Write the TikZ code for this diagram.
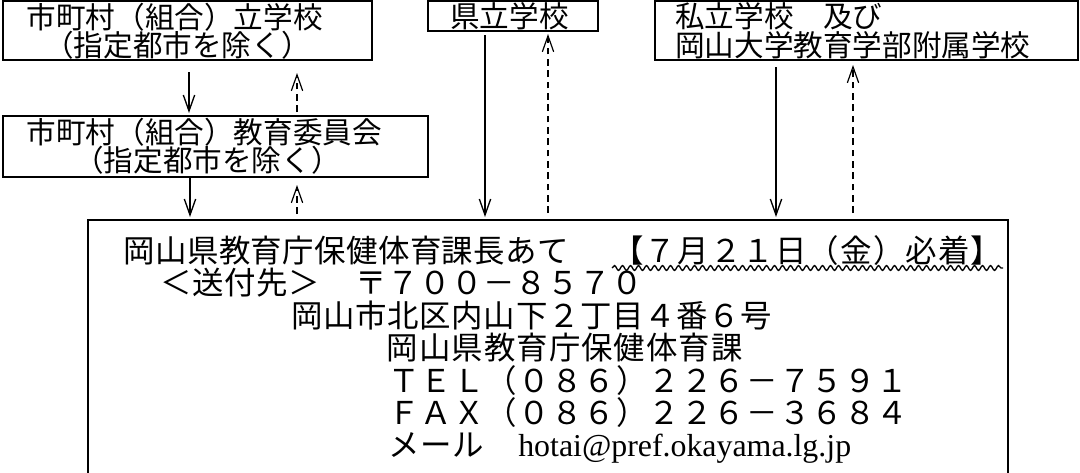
\documentclass[tikz,border=0pt]{standalone}
\usepackage{fontspec}
\setmainfont{Noto Sans CJK JP}
\newfontfamily\tmsfont{Liberation Serif}
\usetikzlibrary{arrows.meta,fit,decorations.pathmorphing}
\newdimen\pxu \pxu=0.75pt
\def\sprloop#1{\ifx#1\relax\else#1\hfil\expandafter\sprloop\fi}
\newcommand\spreadto[2]{\makebox[#1\pxu][s]{\sprloop#2\relax\unskip}}
\tikzset{
  boxst/.style={draw, line width=1.5pt, inner sep=0pt},
  topf/.style={font=\fontsize{22.2pt}{26pt}\selectfont, inner sep=0pt, anchor=base west},
  mainf/.style={font=\fontsize{23.6pt}{28pt}\selectfont, inner sep=0pt, anchor=base west},
  solidarr/.style={line width=1.1pt, -{Straight Barb[length=12pt,width=8.5pt,line width=1pt]}, shorten >=1.5pt},
  dasharr/.style={line width=1pt, dash pattern=on 5pt off 3.5pt, -{Straight Barb[length=12pt,width=8.5pt,line width=0.9pt]}},
  wavy/.style={line width=1pt, decorate, decoration={snake, segment length=6pt, amplitude=1.8pt}}
}
\begin{document}
\begin{tikzpicture}[x=0.75pt,y=-0.75pt]
\clip (0,0) rectangle (1080,472);
\fill[white] (0,0) rectangle (1080,472);
% boxes
\node[boxst, fit={(3,1) (372,60)}] (b1) {};
\node[boxst, fit={(3,116) (428,177)}] (b2) {};
\node[boxst, fit={(428,1) (598,31)}] (b3) {};
\node[boxst, fit={(655,1) (1078,60)}] (b4) {};
\node[boxst, fit={(88,220) (1008,500)}] (mainbox) {};
% top texts
\node[topf] (t1a) at (26.5,28.2) {市町村（組合）立学校};
\node[topf] (t1b) at (44,56.7) {（指定都市を除く）};
\node[topf] (t2a) at (26.5,143.2) {市町村（組合）教育委員会};
\node[topf] (t2b) at (74,171.2) {（指定都市を除く）};
\node[topf] (t3) at (450,27.2) {県立学校};
\node[topf] (t4a) at (675,27.7) {私立学校　及び};
\node[topf] (t4b) at (675,56.2) {岡山大学教育学部附属学校};
% main texts
\node[mainf] (m1) at (123.5,262) {\spreadto{445}{岡山県教育庁保健体育課長あて}};
\node[mainf] (m1b) at (612,262) {\spreadto{390}{【７月２１日（金）必着】}};
\node[mainf] (m2a) at (160,294.5) {\spreadto{160}{＜送付先＞}};
\node[mainf] (m2b) at (355,294.5) {\spreadto{288}{〒７００－８５７０}};
\node[mainf] (m3) at (291.5,327) {\spreadto{480}{岡山市北区内山下２丁目４番６号}};
\node[mainf] (m4) at (386.5,359.5) {\spreadto{356}{岡山県教育庁保健体育課}};
\node[mainf] (m5) at (388,392) {\spreadto{520}{ＴＥＬ（０８６）２２６－７５９１}};
\node[mainf] (m6) at (388,424.5) {\spreadto{520}{ＦＡＸ（０８６）２２６－３６８４}};
\node[mainf] (m7a) at (388,456) {\spreadto{96}{メール}};
\node[mainf, font=\tmsfont\fontsize{23.9pt}{28pt}\selectfont] (m7b) at (518,456) {hotai@pref.okayama.lg.jp};
\draw[wavy] (612,268) -- (1003,268);
% connectors
\coordinate (a1s) at (189,72);
\draw[solidarr] (a1s) -- (a1s |- b2.north);
\coordinate (a2s) at (297,112);
\coordinate (a2e) at (297,73);
\draw[dasharr] (a2s) -- (a2e);
\coordinate (a3x) at (190,0);
\draw[solidarr] (a3x |- b2.south) -- (a3x |- mainbox.north);
\coordinate (a4s) at (297,214);
\coordinate (a4e) at (297,185);
\draw[dasharr] (a4s) -- (a4e);
\coordinate (a5s) at (485,35);
\draw[solidarr] (a5s) -- (a5s |- mainbox.north);
\coordinate (a6s) at (548,213);
\coordinate (a6e) at (548,34);
\draw[dasharr] (a6s) -- (a6e);
\coordinate (a7s) at (776,67);
\draw[solidarr] (a7s) -- (a7s |- mainbox.north);
\coordinate (a8s) at (853,213);
\coordinate (a8e) at (853,65);
\draw[dasharr] (a8s) -- (a8e);
\end{tikzpicture}
\end{document}
